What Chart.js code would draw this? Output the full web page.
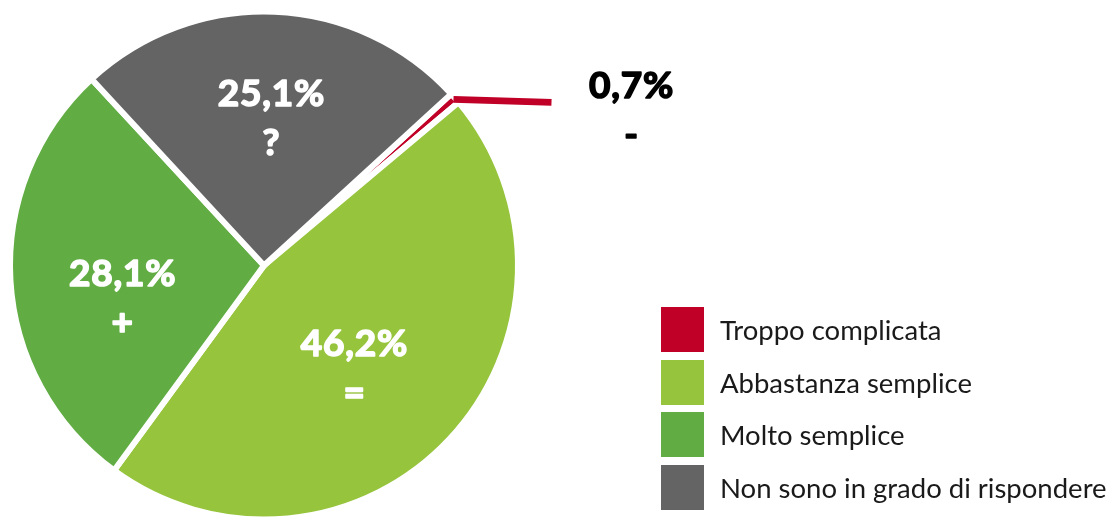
<!DOCTYPE html>
<html>
<head>
<meta charset="utf-8">
<script src="https://cdn.jsdelivr.net/npm/chart.js@4"></script>
<style>
  html, body { margin: 0; padding: 0; background: #fff; overflow: hidden; width: 1112px; height: 518px; }
  #wrap { position: absolute; left: 0; top: 0; width: 1112px; height: 531px; }
  #legend { position: absolute; left: 661px; top: 307px; font-family: Lato, sans-serif; font-size: 27.5px; color: #1a1a1a; }
  .row { display: flex; align-items: center; height: 45px; margin-bottom: 7.7px; }
  .sw { width: 43px; height: 45px; margin-right: 16px; }
</style>
</head>
<body>
<div id="wrap"><canvas id="pie"></canvas></div>
<div id="legend"></div>
<script>
(function () {
  'use strict';

  const labels = ['Troppo complicata', 'Abbastanza semplice', 'Molto semplice', 'Non sono in grado di rispondere'];
  const values = [0.7, 46.2, 28.1, 25.1];
  const symbols = ['-', '=', '+', '?'];
  const colors = ['#c00027', '#96c43c', '#61ad44', '#646464'];

  // legend (html)
  const lg = document.getElementById('legend');
  labels.forEach(function (t, i) {
    const row = document.createElement('div');
    row.className = 'row';
    row.innerHTML = '<div class="sw" style="background:' + colors[i] + '"></div><span>' + t + '</span>';
    lg.appendChild(row);
  });

  function fmt(v) { return v.toFixed(1).replace('.', ',') + '%'; }

  // heavy text: fill + thin stroke of same colour
  function heavy(ctx, txt, x, y, col) {
    ctx.fillStyle = col;
    ctx.strokeStyle = col;
    ctx.fillText(txt, x, y);
    ctx.strokeText(txt, x, y);
  }

  // ── slice labels + leader for the tiny slice ─────────
  const sliceLabels = {
    id: 'sliceLabels',
    afterDatasetsDraw: function (chart, args, opts) {
      const ctx = chart.ctx;
      const arcs = chart.getDatasetMeta(0).data;
      ctx.save();
      ctx.textAlign = 'center';
      ctx.textBaseline = 'middle';
      ctx.font = 'bold ' + opts.size + 'px Lato, sans-serif';
      ctx.letterSpacing = opts.spacing + 'px';
      ctx.lineJoin = 'round';
      arcs.forEach(function (arc, i) {
        const p = arc.getProps(['x', 'y', 'startAngle', 'endAngle', 'outerRadius']);
        const mid = (p.startAngle + p.endAngle) / 2;
        const place = opts.place[i];
        if (place.leader) {
          const r = p.outerRadius - 2;
          const x0 = p.x + Math.cos(mid) * r, y0 = p.y + Math.sin(mid) * r;
          const x1 = x0 + place.leader[0], y1 = y0 + place.leader[1];
          ctx.strokeStyle = colors[i];
          ctx.lineWidth = 7;
          ctx.beginPath();
          ctx.moveTo(x0, y0);
          ctx.lineTo(x1, y1);
          ctx.stroke();
          ctx.lineWidth = opts.weight;
          heavy(ctx, fmt(values[i]), x1 + place.text[0], y1 + place.text[1], '#000');
          heavy(ctx, symbols[i], x1 + place.text[0], y1 + place.text[1] + opts.gap, '#000');
          return;
        }
        const a = mid + place.a * Math.PI / 180;
        const cx = p.x + Math.cos(a) * p.outerRadius * place.r;
        const cy = p.y + Math.sin(a) * p.outerRadius * place.r;
        ctx.lineWidth = opts.weight;
        heavy(ctx, fmt(values[i]), cx, cy - opts.gap / 2, '#fff');
        heavy(ctx, symbols[i], cx, cy + opts.gap / 2, '#fff');
      });
      ctx.restore();
    }
  };

  new Chart(document.getElementById('pie'), {
    type: 'pie',
    data: {
      labels: labels,
      datasets: [{
        data: values,
        backgroundColor: colors,
        borderColor: '#fff',
        borderWidth: 6
      }]
    },
    options: {
      responsive: true,
      maintainAspectRatio: false,
      animation: false,
      rotation: 47.5,
      radius: 254,
      layout: { padding: { left: 0, top: 0, bottom: 0, right: 584 } },
      events: [],
      plugins: {
        legend: { display: false },
        tooltip: { enabled: false },
        sliceLabels: {
          size: 37,
          spacing: 0.8,
          weight: 1.6,
          gap: 49,
          place: [
            { leader: [98, 3], text: [80, -16] },
            { r: 0.541, a: 5.7 },
            { r: 0.571, a: -9.7 },
            { r: 0.578, a: 0.5 }
          ]
        }
      }
    },
    plugins: [sliceLabels]
  });
})();
</script>
</body>
</html>
